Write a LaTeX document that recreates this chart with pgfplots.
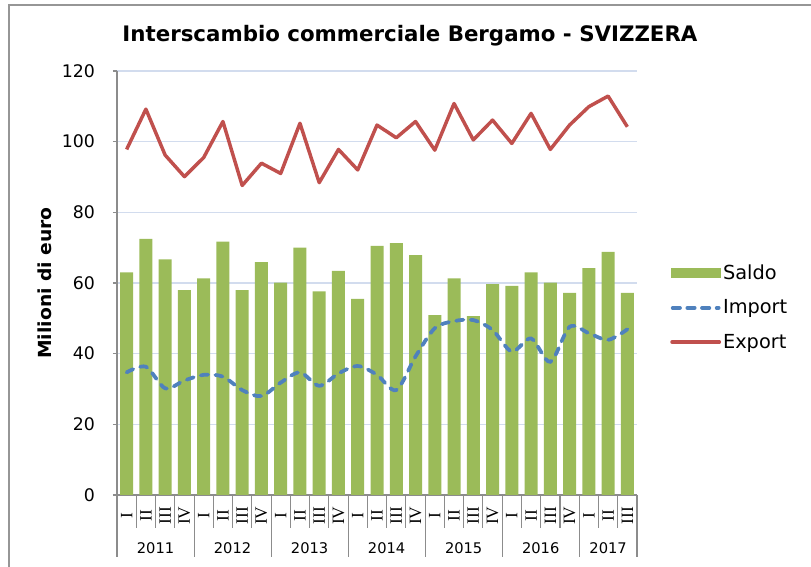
\documentclass[border=0pt]{standalone}
\usepackage{graphicx}
\usepackage{pgfplots}
\pgfplotsset{compat=1.18}
\usepackage{pgfplotstable}
\usepackage{fontspec}
\setmainfont{DejaVu Sans}
\newfontfamily\romanfont{Liberation Serif}
\definecolor{saldo}{HTML}{9BBB59}
\definecolor{import}{HTML}{4F81BD}
\definecolor{export}{HTML}{C0504D}
\definecolor{gridcol}{RGB}{210,220,238}
\definecolor{axisgray}{RGB}{140,140,140}
\definecolor{framegray}{RGB}{150,150,150}

\pgfplotstableread{
q saldo import export
0  63.0 34.7 97.8
1  72.5 36.3 109.2
2  66.7 30.2 96.2
3  58.0 32.4 90.1
4  61.3 34.0 95.5
5  71.7 33.5 105.7
6  58.0 29.7 87.6
7  65.9 28.0 93.9
8  60.1 31.8 91.0
9  70.0 34.7 105.2
10 57.6 30.9 88.4
11 63.4 34.4 97.8
12 55.5 36.5 92.0
13 70.5 34.0 104.7
14 71.3 29.7 101.1
15 67.9 39.2 105.7
16 50.9 47.2 97.6
17 61.3 49.2 110.8
18 50.6 49.5 100.5
19 59.7 46.7 106.1
20 59.2 40.6 99.5
21 63.0 44.3 108.0
22 60.1 37.7 97.8
23 57.2 47.6 104.7
24 64.2 45.8 109.9
25 68.8 43.9 112.9
26 57.2 46.9 104.2
}\datatable

\begin{document}
\begin{tikzpicture}
\useasboundingbox (0,0) rectangle (608.25pt,425.25pt);
\draw[framegray, line width=1pt] (6.75pt,0) -- (6.75pt,421.5pt) -- (608.25pt,421.5pt);
\node[font=\fontsize{16}{19}\selectfont\bfseries] at (307.5pt,398.5pt) {Interscambio commerciale Bergamo - SVIZZERA};
\node[rotate=90, font=\fontsize{13.5}{16}\selectfont\bfseries] at (33.75pt,213pt) {\scalebox{1.04}[1]{Milioni di euro}};
\begin{axis}[
  at={(87.75pt,54pt)}, anchor=south west,
  scale only axis, width=390pt, height=318pt,
  xmin=-0.5, xmax=26.5, ymin=0, ymax=120,
  ytick={0,20,...,120},
  axis x line=bottom, axis y line=left,
  axis line style={draw=axisgray, line width=0.8pt, -},
  ymajorgrids, grid style={gridcol, line width=0.8pt},
  y tick style={draw=axisgray, line width=0.8pt},
  tick align=outside, major tick length=3pt,
  xtick={0,...,26}, x tick style={draw=none},
  xticklabels={I,II,III,IV,I,II,III,IV,I,II,III,IV,I,II,III,IV,I,II,III,IV,I,II,III,IV,I,II,III},
  xticklabel shift=12.5pt,
  xticklabel style={anchor=center, rotate=90, font=\romanfont\fontsize{13}{15}\selectfont},
  yticklabel style={font=\fontsize{13}{15}\selectfont, xshift=-10pt},
  /pgf/number format/assume math mode=true,
  clip=false,
  legend cell align=left,
  legend style={at={(axis description cs:1,0.442)}, anchor=west, xshift=24.75pt,
    draw=none, fill=none, inner sep=0pt, font=\fontsize{14.5}{17}\selectfont,
    row sep=10.5pt, nodes={inner sep=1.5pt}},
]
\addplot[ybar, bar width=9.75pt, fill=saldo, draw=none,
  legend image code/.code={\fill[saldo] (0pt,-3.75pt) rectangle (37.5pt,3.75pt);}]
  table[x=q, y=saldo] {\datatable};
\addlegendentry{Saldo}
\addplot[import, line width=2.8pt, smooth, line cap=round, dash pattern=on 5.5pt off 5.5pt,
  legend image code/.code={\draw[import, line width=2.8pt, line cap=round, dash pattern=on 5.5pt off 5.5pt] (1.5pt,0pt) -- (36pt,0pt);}]
  table[x=q, y=import] {\datatable};
\addlegendentry{Import}
\addplot[export, line width=2.6pt, line join=round,
  legend image code/.code={\draw[export, line width=2.6pt, line cap=round] (1pt,0pt) -- (36.5pt,0pt);}]
  table[x=q, y=export] {\datatable};
\addlegendentry{Export}
\pgfplotsinvokeforeach{0.5,1.5,2.5,4.5,5.5,6.5,8.5,9.5,10.5,12.5,13.5,14.5,16.5,17.5,18.5,20.5,21.5,22.5,24.5,25.5}{\draw[axisgray, line width=0.8pt] (axis cs:#1,0) -- ++(0pt,-24.75pt);}
\pgfplotsinvokeforeach{-0.5,3.5,7.5,11.5,15.5,19.5,23.5,26.5}{\draw[axisgray, line width=0.8pt] (axis cs:#1,0) -- ++(0pt,-46.5pt);}
\node[font=\fontsize{11}{13}\selectfont] at (axis cs:1.5,0) [yshift=-39.75pt] {2011};
\node[font=\fontsize{11}{13}\selectfont] at (axis cs:5.5,0) [yshift=-39.75pt] {2012};
\node[font=\fontsize{11}{13}\selectfont] at (axis cs:9.5,0) [yshift=-39.75pt] {2013};
\node[font=\fontsize{11}{13}\selectfont] at (axis cs:13.5,0) [yshift=-39.75pt] {2014};
\node[font=\fontsize{11}{13}\selectfont] at (axis cs:17.5,0) [yshift=-39.75pt] {2015};
\node[font=\fontsize{11}{13}\selectfont] at (axis cs:21.5,0) [yshift=-39.75pt] {2016};
\node[font=\fontsize{11}{13}\selectfont] at (axis cs:25,0) [yshift=-39.75pt] {2017};
\end{axis}
\end{tikzpicture}
\end{document}
